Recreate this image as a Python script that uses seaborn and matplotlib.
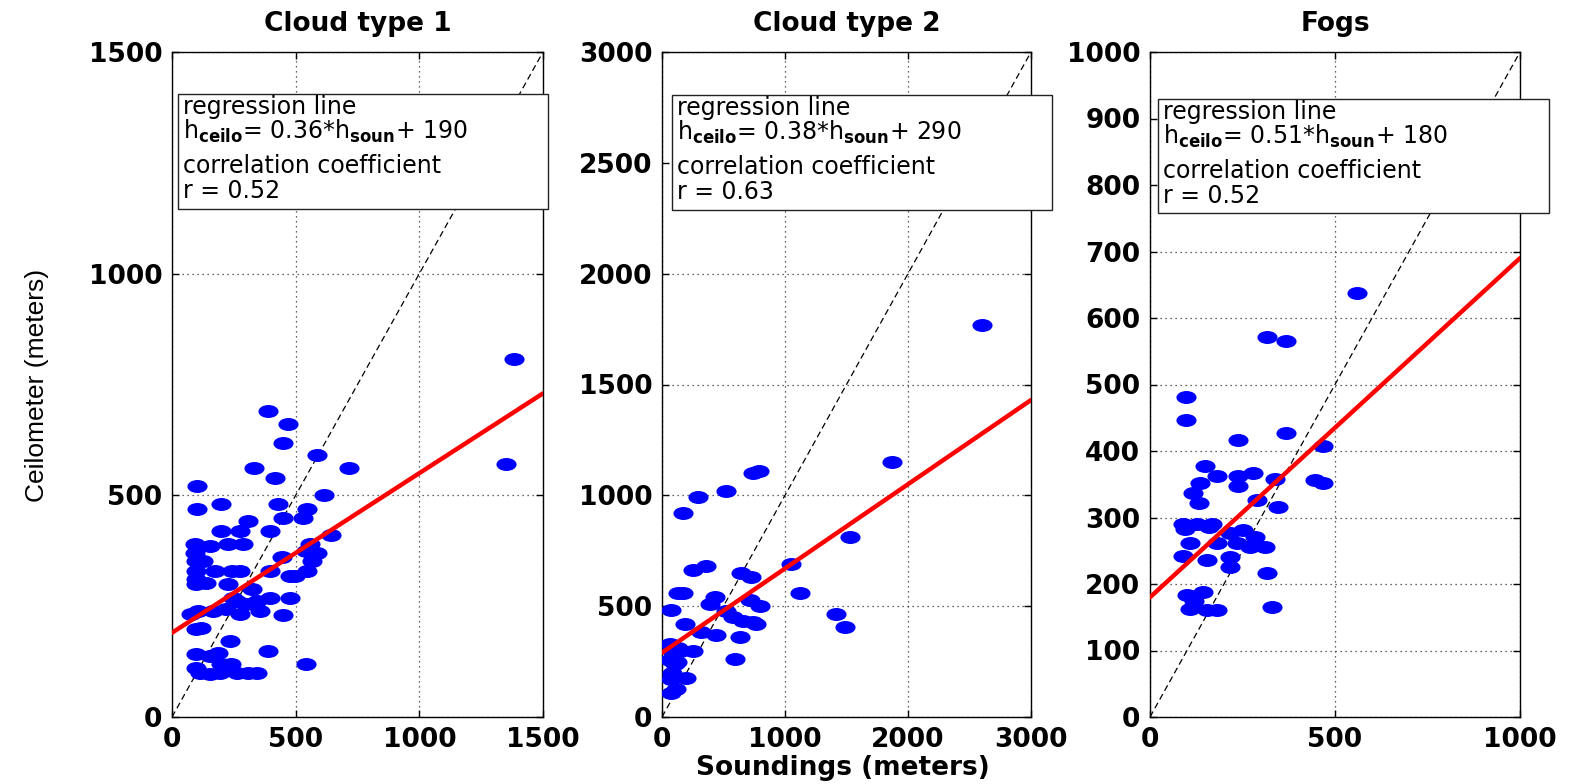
import numpy as np
import pandas as pd
import matplotlib
matplotlib.use("Agg")
import matplotlib.pyplot as plt
from matplotlib.path import Path
from matplotlib.markers import MarkerStyle
from matplotlib.patches import Rectangle
from matplotlib.transforms import Affine2D
import seaborn as sns

# ---------------- data ----------------
titles = ["Cloud type 1", "Cloud type 2", "Fogs"]

sound_c1 = [1382, 1351, 389, 470, 447, 588, 331, 716, 416, 101, 616, 101, 200, 430, 544,
            447, 531, 308, 197, 274, 396, 642, 92, 153, 227, 288, 92, 99, 126, 558, 585,
            565, 443, 540, 99, 173, 241, 274, 396, 477, 544, 499, 99, 99, 227, 139, 322,
            261, 342, 396, 477, 301, 247, 105, 166, 274, 355, 447, 78, 220, 119, 99, 234,
            389, 99, 186, 153, 99, 240, 200, 112, 193, 308, 261, 342, 153, 540]
ceilo_c1 = [807, 570, 690, 660, 619, 590, 561, 561, 540, 521, 500, 470, 480, 480, 470,
            450, 450, 441, 420, 420, 420, 410, 390, 385, 390, 390, 371, 352, 352, 390, 371,
            352, 360, 375, 329, 329, 329, 329, 329, 318, 329, 318, 311, 299, 299, 303, 288,
            262, 262, 269, 269, 254, 269, 239, 239, 232, 239, 230, 232, 243, 201, 198, 171,
            149, 141, 145, 138, 111, 119, 119, 100, 100, 100, 100, 100, 96, 120]

sound_c2 = [2600, 1866, 740, 790, 523, 293, 171, 1527, 1052, 252, 361, 645, 727, 130, 171,
            1120, 428, 388, 713, 795, 76, 523, 578, 659, 740, 768, 1418, 1486, 184, 320,
            442, 632, 62, 130, 252, 591, 62, 103, 76, 198, 117, 76, 150, 90, 80, 120]
ceilo_c2 = [1770, 1149, 1100, 1112, 1021, 991, 919, 811, 691, 661, 683, 649, 631, 560, 560,
            560, 541, 511, 526, 503, 483, 480, 450, 432, 428, 420, 465, 405, 420, 383,
            372, 360, 330, 312, 297, 260, 255, 240, 173, 177, 128, 110, 300, 290, 200, 250]

sound_fog = [559, 315, 368, 97, 97, 367, 237, 468, 149, 180, 239, 279, 135, 239, 338, 446,
             467, 117, 133, 288, 347, 90, 126, 167, 95, 160, 216, 252, 284, 311, 108, 180,
             234, 270, 90, 153, 216, 216, 315, 99, 144, 108, 153, 180, 120, 330]
ceilo_fog = [637, 571, 566, 481, 447, 427, 417, 407, 377, 362, 362, 367, 352, 347, 358, 357,
             352, 337, 322, 327, 316, 290, 290, 290, 283, 285, 276, 281, 271, 256, 261, 261,
             261, 256, 242, 236, 241, 226, 216, 183, 188, 163, 161, 161, 175, 165]

slopes = [0.36, 0.38, 0.51]
intercepts = [190, 290, 180]
corr_r = [0.52, 0.63, 0.52]

axis_max = [1500, 3000, 1000]
xticks = [[0, 500, 1000, 1500], [0, 1000, 2000, 3000], [0, 500, 1000]]
yticks = [[0, 500, 1000, 1500], list(range(0, 3001, 500)), list(range(0, 1001, 100))]

# ---------------- style ----------------
sns.set_theme(style="white")
plt.rcParams["font.family"] = ["DejaVu Sans"]
plt.rcParams["mathtext.fontset"] = "dejavusans"

W, H = 1573, 784
fig = plt.figure(figsize=(W / 100, H / 100), dpi=100)
fig.patch.set_facecolor("white")

# axes frames in pixel coordinates (left, right); shared top/bottom
frames = [(172, 543), (662, 1031), (1150, 1520)]
top_px, bot_px = 52, 717
# annotation boxes (left, right, top, bottom) in pixels
boxes = [(178, 548, 94, 209), (672, 1052, 95, 210), (1158, 1549, 99, 213)]

# wide oval marker
oval = Path.unit_circle().transformed(Affine2D().scale(1.55, 1.0))
oval_marker = MarkerStyle(oval)

sets = [(sound_c1, ceilo_c1), (sound_c2, ceilo_c2), (sound_fog, ceilo_fog)]

def fx(px):
    return px / W

def fy(py):
    return 1 - py / H

for i, ((l, r), (xs, ys)) in enumerate(zip(frames, sets)):
    ax = fig.add_axes([fx(l), fy(bot_px), (r - l) / W, (bot_px - top_px) / H])
    ax.set_facecolor("white")
    df = pd.DataFrame({"soundings": xs, "ceilometer": ys})
    m = axis_max[i]

    ax.set_xlim(0, m)
    ax.set_ylim(0, m)
    ax.set_xticks(xticks[i])
    ax.set_yticks(yticks[i])
    ax.grid(True, which="major", color="#333333", linestyle=(0, (1, 3)), linewidth=0.9)
    ax.set_axisbelow(True)

    # 1:1 reference line
    diag = pd.DataFrame({"x": [0, m], "y": [0, m]})
    sns.lineplot(data=diag, x="x", y="y", ax=ax, color="black", linewidth=0.9,
                 linestyle=(0, (5, 3)), zorder=2)

    sns.scatterplot(data=df, x="soundings", y="ceilometer", ax=ax, marker=oval_marker,
                    s=210, color="#0000ff", edgecolor="#0000ff", linewidth=0, zorder=3)

    # regression line
    reg_x = np.array([0, m])
    reg = pd.DataFrame({"x": reg_x, "y": slopes[i] * reg_x + intercepts[i]})
    sns.lineplot(data=reg, x="x", y="y", ax=ax, color="#ff0000", linewidth=3.2, zorder=4)

    ax.set_xlabel("")
    ax.set_ylabel("")
    for sp in ax.spines.values():
        sp.set_visible(True)
        sp.set_color("black")
        sp.set_linewidth(1.0)
    ax.tick_params(direction="in", top=True, right=True, length=5, width=1,
                   color="black", labelsize=19, pad=7, bottom=True, left=True)
    for lab in ax.get_xticklabels() + ax.get_yticklabels():
        lab.set_fontweight("bold")
        lab.set_color("black")

    ax.set_title(titles[i], fontsize=19, fontweight="bold", pad=15, color="black")

    # annotation box
    bl, br, bt, bb = boxes[i]
    fig.patches.append(Rectangle((fx(bl), fy(bb)), (br - bl) / W, (bb - bt) / H,
                                 transform=fig.transFigure, facecolor="white",
                                 edgecolor="#222222", linewidth=1.0, zorder=10))
    tx = fx(bl + 5)
    lines = [
        ("regression line", 20),
        (r"h$_{\mathbf{ceilo}}$= %.2f*h$_{\mathbf{soun}}$+ %d" % (slopes[i], intercepts[i]), 45),
        ("correlation coefficient", 79),
        ("r = %.2f" % corr_r[i], 104),
    ]
    for txt, off in lines:
        fig.text(tx, fy(bt + off), txt, fontsize=17, va="baseline", ha="left",
                 color="black", zorder=11)

fig.text(fx(37), fy(385), "Ceilometer (meters)", rotation=90, ha="center", va="center",
         fontsize=19, family=["Liberation Sans", "DejaVu Sans"], color="black")
fig.text(fx(843), fy(768), "Soundings (meters)", ha="center", va="center",
         fontsize=19, fontweight="bold", color="black")

fig.savefig("out.png", dpi=100, facecolor="white")
